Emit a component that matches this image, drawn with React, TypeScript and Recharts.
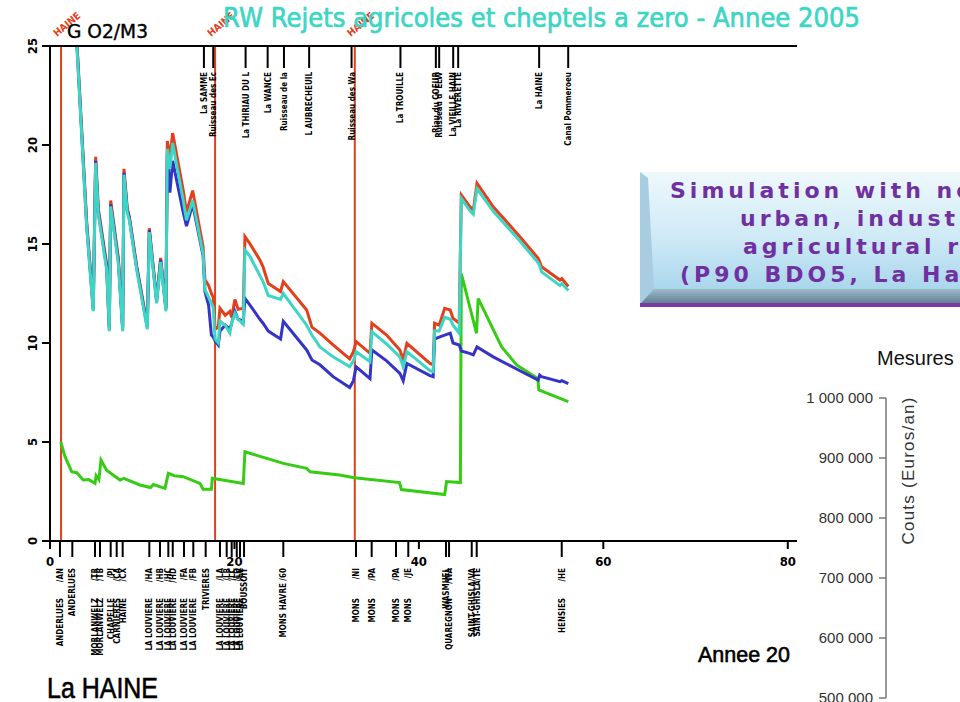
import React from "react";
import { Line, LineChart, ReferenceLine, XAxis, YAxis } from "recharts";

// ─── Data (km along La Haine / mg O2 per m3) ────────────────
const upperKm = [
  2.8, 3.97, 4.69, 4.95, 5.24, 6.14, 6.43, 6.58, 7.41, 7.88,
  8.02, 8.38, 8.6, 9.4, 10.55, 10.77, 11.56, 12.0, 12.57, 12.72,
  13.0, 13.3, 14.45, 14.8, 15.47, 16.6, 16.8, 17.2, 17.5, 17.7,
  17.9, 18.25, 18.43, 19.0, 19.5, 19.7, 20.05, 20.4, 20.96, 21.14,
  21.7, 22.76, 23.1, 23.67, 25.0, 25.3, 27.83, 28.4, 29.27, 30.7,
  32.5, 32.9, 33.2, 34.7, 34.9, 36.5, 37.94, 38.3, 38.7, 41.2,
  41.55, 41.7, 42.2, 42.8, 43.4, 43.7, 44.37, 44.6, 45.5, 45.9,
  46.3, 48.06, 50.95, 52.93, 53.1, 53.3, 55.3, 55.5, 56.2,
];
const redVals = [
  26.2, 16.2, 11.8, 19.4, 16.8, 14.0, 10.8, 17.2, 14.3, 10.8,
  18.8, 16.8, 16.4, 13.9, 10.9, 15.8, 12.2, 14.3, 11.8, 20.2,
  19.4, 20.6, 17.7, 16.6, 17.7, 14.85, 13.2, 12.9, 12.5, 12.3,
  10.7, 10.8, 11.75, 11.4, 11.6, 11.3, 12.2, 11.7, 11.75, 15.37,
  15.0, 14.19, 13.85, 13.0, 12.6, 13.1, 11.67, 10.8, 10.5, 9.9,
  9.2, 9.56, 10.07, 9.48, 11.0, 10.4, 9.65, 9.14, 9.98, 8.97,
  8.9, 11.0, 10.9, 11.75, 11.67, 11.25, 11.0, 17.47, 16.9, 16.7,
  18.07, 16.88, 15.37, 14.28, 14.1, 13.85, 13.18, 13.25, 12.85,
];
const cyanVals = [
  26.0, 15.9, 11.6, 19.1, 16.5, 13.7, 10.6, 16.9, 14.0, 10.6,
  18.5, 16.6, 16.2, 13.7, 10.7, 15.6, 12.0, 14.1, 11.6, 19.8,
  18.8, 20.1, 17.2, 16.2, 17.2, 14.5, 12.7, 12.3, 12.0, 11.8,
  10.2, 10.0, 11.1, 10.9, 10.5, 11.0, 11.5, 11.2, 10.95, 14.7,
  14.36, 13.4, 13.1, 12.4, 12.2, 12.5, 10.9, 10.4, 9.8, 9.3,
  8.8, 9.1, 9.56, 9.06, 10.57, 9.95, 9.3, 8.8, 9.56, 8.6,
  8.55, 10.6, 10.6, 11.3, 11.2, 10.9, 10.5, 17.3, 16.7, 16.5,
  17.8, 16.65, 15.15, 14.05, 13.9, 13.6, 12.9, 13.0, 12.65,
];
const blueVals = [
  26.1, 16.0, 11.7, 19.2, 16.6, 13.85, 10.7, 17.0, 14.15, 10.7,
  18.6, 16.7, 16.3, 13.8, 10.8, 15.7, 12.1, 14.2, 11.7, 19.6,
  17.6, 19.2, 16.6, 15.9, 17.0, 14.4, 12.6, 11.9, 10.4, 10.3,
  10.1, 9.9, 10.6, 10.9, 10.7, 11.0, 11.6, 11.2, 11.1, 12.25,
  11.9, 11.2, 11.0, 10.6, 10.2, 11.1, 9.65, 9.14, 8.9, 8.3,
  7.75, 8.1, 8.8, 8.2, 9.65, 9.1, 8.47, 8.1, 8.97, 8.35,
  8.3, 10.2, 10.3, 10.4, 10.5, 10.0, 9.9, 9.6, 9.48, 9.4,
  9.8, 9.3, 8.6, 8.13, 8.38, 8.3, 8.05, 8.1, 7.95,
];
const greenKm = [
  1.16, 1.63, 2.35, 2.9, 3.6, 4.2, 4.88, 5.0, 5.3, 5.53,
  6.14, 7.59, 8.0, 9.76, 10.9, 11.2, 12.47, 12.83, 13.5, 14.45,
  16.26, 16.6, 17.5, 17.6, 20.96, 21.14, 25.3, 27.83, 28.2, 31.4,
  33.0, 37.9, 38.1, 42.8, 43.0, 44.5, 44.6, 46.25, 46.43, 48.96,
  50.6, 52.9, 53.0, 56.2,
];
const greenVals = [
  5.02, 4.26, 3.5, 3.45, 3.08, 3.1, 2.91, 3.3, 3.1, 4.09,
  3.58, 3.08, 3.16, 2.83, 2.7, 2.85, 2.66, 3.42, 3.3, 3.25,
  2.91, 2.61, 2.61, 3.17, 2.91, 4.51, 3.92, 3.67, 3.5, 3.33,
  3.2, 2.95, 2.6, 2.35, 3.0, 2.95, 13.5, 10.49, 12.25, 9.81,
  8.89, 8.2, 7.63, 7.04,
];

const yTicks = [0, 5, 10, 15, 20, 25];
const kmTicks = [0, 20, 40, 60, 80];
const haineKm = [1.2, 17.9, 33.05];

const topStationKm = [16.69, 17.7, 21.21, 23.6, 25.37, 28.1, 32.7, 38.0, 41.84, 42.2, 43.72, 44.26, 53.04, 56.19];
const topStationNames = [
  "La SAMME", "Ruisseau des Ec", "La THIRIAU DU L", "La WANCE", "Ruisseau de la",
  "L  AUBRECHEUIL", "Ruisseau des Wa", "La TROUILLE", "Riau du COEUR", "Ruisseau d' ELW",
  "La VIEILLE HAIN", "La RIVERETTE", "La HAINE", "Canal Pommeroeu",
];

const bottomStationKm = [
  1.08, 2.42, 4.88, 5.42, 6.58, 7.23, 7.88, 10.77, 11.93, 12.83,
  13.31, 14.53, 15.54, 16.88, 18.43, 19.16, 19.7, 20.25, 20.6, 21.04,
  25.3, 33.18, 34.88, 37.52, 38.85, 42.94, 43.27, 45.73, 46.27, 55.49,
];
const bottomStationNames = [
  "ANDERLUES", "ANDERLUES", "MORLANWELZ", "MORLANWELZ", "CHAPELLE", "CARNIERES", "HAINE", "LA LOUVIERE", "LA LOUVIERE", "LA LOUVIERE",
  "LA LOUVIERE", "LA LOUVIERE", "LA LOUVIERE", "TRIVIERES", "LA LOUVIERE", "LA LOUVIERE", "LA LOUVIERE", "LA LOUVIERE", "LA LOUVIERE", "BOUSSOIT",
  "MONS", "MONS", "MONS", "MONS", "MONS", "WASMUEL", "QUAREGNON", "SAINT-GHISLA/VA", "SAINT-GHISLA/TE", "HENSIES",
];
const bottomStationCodes = [
  "/AN", "", "/TR", "/TB", "/PJ", "/CA", "/CX", "/HA", "/HB", "/HC",
  "/HD", "/FA", "/FB", "", "/LA", "/LB", "/LC", "/LD", "/LE", "",
  "HAVRE /60", "/NI", "/PA", "/PA", "/JE", "", "/WA", "", "", "/HE",
];

const costTicks = [500000, 600000, 700000, 800000, 900000, 1000000];

// ─── Styles ──────────────────────────────────────────────────
const COND = "'DejaVu Sans Condensed', 'DejaVu Sans', sans-serif";
const SANS = "'Liberation Sans', Arial, sans-serif";
const RED = "#e2401c";
const CYAN = "#3dd5c4";
const BLUE = "#3434c6";
const GREEN = "#36cc14";

const toPoints = (km: number[], vals: number[]) => km.map((k, i) => ({ km: k, v: vals[i] }));
const redData = toPoints(upperKm, redVals);
const cyanData = toPoints(upperKm, cyanVals);
const blueData = toPoints(upperKm, blueVals);
const greenData = toPoints(greenKm, greenVals);
const bottomTicks = [...kmTicks, ...bottomStationKm];
const costData = costTicks.map((c) => ({ c }));

const fmtCost = (v: number) => String(v).replace(/\B(?=(\d{3})+(?!\d))/g, " ");

function LeftTick({ x, y, payload }: any) {
  const bx = x - 3;
  return (
    <text x={bx} y={y} transform={`rotate(-90, ${bx}, ${y})`} textAnchor="middle"
      fontFamily={COND} fontWeight="bold" fontSize={13} fill="#000">
      {payload.value}
    </text>
  );
}

function TopTick({ x, y, payload }: any) {
  const i = topStationKm.indexOf(payload.value);
  const ty = y + 26;
  return (
    <g>
      <line x1={x} x2={x} y1={y} y2={y + 22} stroke="#000" strokeWidth={2} />
      <text x={x + 3} y={ty} transform={`rotate(-90, ${x + 3}, ${ty})`} textAnchor="end"
        fontFamily={COND} fontWeight="bold" fontSize={8} fill="#000">
        {topStationNames[i]}
      </text>
    </g>
  );
}

function BottomTick({ x, y, payload }: any) {
  const v = payload.value;
  if (kmTicks.includes(v)) {
    return (
      <g>
        <line x1={x} x2={x} y1={y} y2={y + 8} stroke="#000" strokeWidth={2} />
        <text x={x} y={y + 25} textAnchor="middle" fontFamily={COND} fontWeight="bold" fontSize={13} fill="#000">
          {v}
        </text>
      </g>
    );
  }
  const i = bottomStationKm.indexOf(v);
  const code = bottomStationCodes[i];
  const cy = y + 27;
  const ny = code === "" ? cy : code.length > 4 ? y + 72 : y + 57;
  return (
    <g>
      <line x1={x} x2={x} y1={y} y2={y + 16} stroke="#000" strokeWidth={2} />
      {code && (
        <text x={x + 3} y={cy} transform={`rotate(-90, ${x + 3}, ${cy})`} textAnchor="end"
          fontFamily={COND} fontWeight="bold" fontSize={8} fill="#000">
          {code}
        </text>
      )}
      <text x={x + 3} y={ny} transform={`rotate(-90, ${x + 3}, ${ny})`} textAnchor="end"
        fontFamily={COND} fontWeight="bold" fontSize={8} fill="#000">
        {bottomStationNames[i]}
      </text>
    </g>
  );
}

function HaineLabel({ viewBox }: any) {
  if (!viewBox) return null;
  const x = viewBox.x - 4;
  const y = viewBox.y - 9;
  return (
    <text x={x} y={y} transform={`rotate(-40, ${x}, ${y})`} fontFamily={COND} fontWeight="bold"
      fontSize={10} fill={RED}>
      HAINE
    </text>
  );
}

export default function App() {
  return (
    <div style={{ position: "absolute", left: 0, top: 0, width: 960, height: 702, overflow: "hidden", background: "#fff" }}>
      <div style={{ position: "absolute", left: 0, top: 0 }}>
        <LineChart width={960} height={702} margin={{ top: 16, right: 163, bottom: 131, left: 10 }}>
          <XAxis xAxisId="top" orientation="top" type="number" dataKey="km" domain={[0, 81]}
            ticks={topStationKm} interval={0} height={30} tickSize={0} tickMargin={0} tickLine={false}
            axisLine={{ stroke: "#000", strokeWidth: 2 }} tick={TopTick} />
          <XAxis xAxisId="bottom" type="number" dataKey="km" domain={[0, 81]}
            ticks={bottomTicks} interval={0} height={30} tickSize={0} tickMargin={0} tickLine={false}
            axisLine={{ stroke: "#000", strokeWidth: 2 }} tick={BottomTick} />
          <YAxis type="number" domain={[0, 25]} ticks={yTicks} allowDataOverflow width={40}
            tickSize={8} tickMargin={2} stroke="#000" strokeWidth={2}
            axisLine={{ stroke: "#000", strokeWidth: 2 }} tickLine={{ stroke: "#000", strokeWidth: 2 }} tick={LeftTick} />
          {haineKm.map((k) => (
            <ReferenceLine key={k} xAxisId="bottom" x={k} stroke={RED} strokeWidth={2} label={<HaineLabel />} />
          ))}
          {/* green runs on the top axis (same 0-81 km scale) so that axis gets its ticks */}
          <Line xAxisId="top" data={greenData} dataKey="v" type="linear" stroke={GREEN} strokeWidth={3} dot={false} isAnimationActive={false} />
          <Line xAxisId="bottom" data={redData} dataKey="v" type="linear" stroke={RED} strokeWidth={3} dot={false} isAnimationActive={false} />
          <Line xAxisId="bottom" data={blueData} dataKey="v" type="linear" stroke={BLUE} strokeWidth={3} dot={false} isAnimationActive={false} />
          <Line xAxisId="bottom" data={cyanData} dataKey="v" type="linear" stroke={CYAN} strokeWidth={3} dot={false} isAnimationActive={false} />
        </LineChart>
      </div>

      <div style={{ position: "absolute", left: 0, top: 0 }}>
        <LineChart width={960} height={702} data={costData} margin={{ top: 398, right: 10, bottom: 4, left: 806 }}>
          <XAxis hide height={0} />
          <YAxis dataKey="c" type="number" domain={[500000, 1000000]} ticks={costTicks} interval={0} width={80}
            tickSize={7} tickMargin={6} tickFormatter={fmtCost}
            axisLine={{ stroke: "#777", strokeWidth: 1.5 }} tickLine={{ stroke: "#777", strokeWidth: 1.5 }}
            tick={{ fontFamily: SANS, fontSize: 15, fill: "#333" }} />
        </LineChart>
      </div>

      <svg width={960} height={702} style={{ position: "absolute", left: 0, top: 0, pointerEvents: "none" }}>
        <defs>
          <linearGradient id="boxFill" x1="0" y1="0" x2="0" y2="1">
            <stop offset="0" stopColor="#eef8fc" />
            <stop offset="0.55" stopColor="#cfeaf6" />
            <stop offset="1" stopColor="#a9d6ec" />
          </linearGradient>
          <linearGradient id="boxBevel" x1="0" y1="0" x2="0" y2="1">
            <stop offset="0" stopColor="#9dbccc" />
            <stop offset="1" stopColor="#5d7b8c" />
          </linearGradient>
        </defs>
        <text x={223} y={27} textLength={637} lengthAdjust="spacingAndGlyphs" fontFamily="'DejaVu Sans', sans-serif"
          fontSize={27} fill={CYAN} stroke={CYAN} strokeWidth={0.7}>
          RW Rejets agricoles et cheptels a zero - Annee 2005
        </text>
        <text x={67} y={38} textLength={81} lengthAdjust="spacingAndGlyphs" fontFamily="'DejaVu Sans', sans-serif"
          fontSize={19} fill="#000" stroke="#000" strokeWidth={0.4}>
          G O2/M3
        </text>

        <rect x={640} y={172} width={330} height={118} fill="url(#boxFill)" />
        <polygon points="640,172 648,178 654,290 640,304" fill="#a8cde0" />
        <polygon points="654,289 970,289 970,304 640,304" fill="url(#boxBevel)" />
        <rect x={640} y={303} width={330} height={4} fill="#7b3aa3" />
        <g fontFamily="'DejaVu Sans', sans-serif" fontWeight="bold" fontSize={22} fill="#7030a0" letterSpacing={4}>
          <text x={670} y={198}>Simulation with no more</text>
          <text x={740} y={226}>urban, industrial and</text>
          <text x={743} y={254}>agricultural rejects</text>
          <text x={680} y={282}>(P90 BDO5, La Haine)</text>
        </g>

        <text x={877} y={365} fontFamily={SANS} fontSize={20} fill="#111">
          Mesures
        </text>
        <text x={914} y={471} transform="rotate(-90, 914, 471)" textAnchor="middle" textLength={147}
          fontFamily={SANS} fontSize={17} fill="#333">
          Couts (Euros/an)
        </text>
        <text x={698} y={662} textLength={92} lengthAdjust="spacingAndGlyphs" fontFamily={SANS} fontSize={22}
          fill="#000" stroke="#000" strokeWidth={0.6}>
          Annee 20
        </text>
        <text x={47} y={698} textLength={111} lengthAdjust="spacingAndGlyphs" fontFamily={SANS} fontSize={29}
          fill="#000" stroke="#000" strokeWidth={0.6}>
          La HAINE
        </text>
      </svg>
    </div>
  );
}
